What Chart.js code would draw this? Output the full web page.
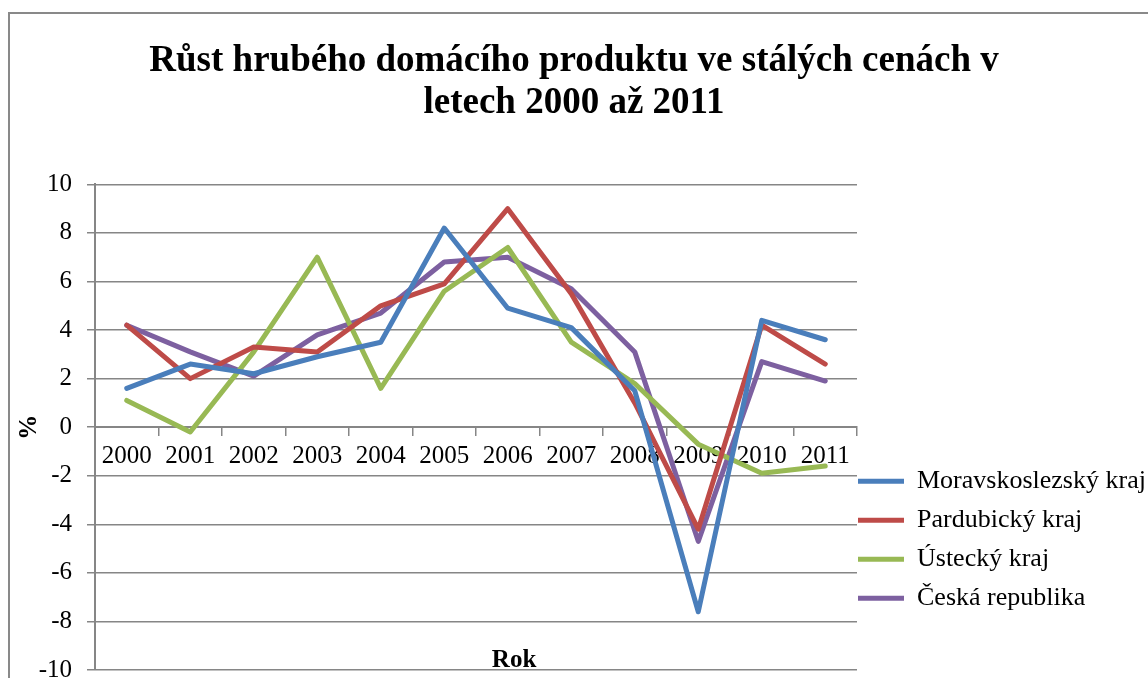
<!DOCTYPE html>
<html>
<head>
<meta charset="utf-8">
<script src="https://cdn.jsdelivr.net/npm/chart.js@4"></script>
<style>
    html, body { margin: 0; padding: 0; background: #fff; overflow: hidden; }
    #frame {
        position: absolute; left: 8px; top: 12px; width: 1200px; height: 720px;
        border-top: 2px solid #898989; border-left: 2px solid #898989;
    }
    #chart { position: absolute; left: 0; top: 0; }
</style>
</head>
<body>
<div id="frame"></div>
<canvas id="chart" width="1148" height="700"></canvas>
<script>
const years = ['2000', '2001', '2002', '2003', '2004', '2005', '2006', '2007', '2008', '2009', '2010', '2011'];

const moravskoslezsky = [1.6, 2.6, 2.2, 2.9, 3.5, 8.2, 4.9, 4.1, 1.5, -7.6, 4.4, 3.6];
const pardubicky      = [4.2, 2.0, 3.3, 3.1, 5.0, 5.9, 9.0, 5.5, 1.0, -4.2, 4.2, 2.6];
const ustecky         = [1.1, -0.2, 3.1, 7.0, 1.6, 5.6, 7.4, 3.5, 1.8, -0.7, -1.9, -1.6];
const ceskaRepublika  = [4.2, 3.1, 2.1, 3.8, 4.7, 6.8, 7.0, 5.7, 3.1, -4.7, 2.7, 1.9];

const seriesNames = ['Moravskoslezský kraj', 'Pardubický kraj', 'Ústecký kraj', 'Česká republika'];
const seriesColors = ['#4A7EBB', '#BE4B48', '#98B954', '#7D60A0'];

const yMin = -10;
const yMax = 10;
const yStep = 2;

const serif = 'Liberation Serif';
const gridColor = '#868686';

function makeDataset(i, values) {
    return {
        label: seriesNames[i],
        data: values,
        borderColor: seriesColors[i],
        backgroundColor: seriesColors[i],
        borderWidth: 5,
        borderCapStyle: 'round',
        borderJoinStyle: 'round',
        pointRadius: 0,
        tension: 0
    };
}

// shifts the legend down beside the plot and writes the "Rok" axis title
const excelLook = {
    id: 'excelLook',
    afterLayout: function (chart) {
        const lg = chart.legend;
        lg.left -= 12;
        lg.top += 271;
        lg.bottom += 271;
    },
    afterDraw: function (chart) {
        const ctx = chart.ctx;
        const area = chart.chartArea;
        ctx.save();
        ctx.font = 'bold 25px "' + serif + '"';
        ctx.fillStyle = '#000';
        ctx.textAlign = 'center';
        ctx.textBaseline = 'alphabetic';
        ctx.fillText('Rok', area.left + area.width * 0.55, area.bottom - 3);
        ctx.restore();
    }
};

new Chart(document.getElementById('chart').getContext('2d'), {
    type: 'line',
    data: {
        labels: years,
        datasets: [
            makeDataset(0, moravskoslezsky),
            makeDataset(1, pardubicky),
            makeDataset(2, ustecky),
            makeDataset(3, ceskaRepublika)
        ]
    },
    options: {
        responsive: false,
        animation: false,
        devicePixelRatio: 1,
        layout: { padding: { top: 0, left: 0, right: 0, bottom: 15 } },
        plugins: {
            title: {
                display: true,
                text: ['Růst hrubého domácího produktu ve stálých cenách v', 'letech 2000 až 2011'],
                color: '#000',
                font: { family: serif, size: 37, weight: 'bold', lineHeight: 1.14 },
                padding: { top: 40, bottom: 60 }
            },
            legend: {
                position: 'right',
                align: 'start',
                fullSize: false,
                maxWidth: 291,
                labels: {
                    usePointStyle: true,
                    pointStyle: 'line',
                    pointStyleWidth: 46,
                    color: '#000',
                    padding: 13,
                    font: { family: serif, size: 26 }
                }
            },
            tooltip: { enabled: false }
        },
        scales: {
            x: {
                type: 'category',
                position: { y: 0 },
                offset: true,
                grid: {
                    offset: true,
                    drawOnChartArea: false,
                    drawTicks: true,
                    tickLength: 8,
                    color: gridColor,
                    lineWidth: 1.5
                },
                border: { display: true, color: gridColor, width: 2 },
                ticks: {
                    color: '#000',
                    font: { family: serif, size: 25 },
                    padding: 6,
                    autoSkip: false,
                    maxRotation: 0
                }
            },
            y: {
                min: yMin,
                max: yMax,
                afterFit: function (scale) { scale.width = 95; },
                ticks: {
                    stepSize: yStep,
                    color: '#000',
                    font: { family: serif, size: 25 },
                    padding: 15
                },
                grid: {
                    color: gridColor,
                    lineWidth: 1.5,
                    tickLength: 8
                },
                border: { display: true, color: gridColor, width: 2 },
                title: {
                    display: true,
                    text: '%',
                    color: '#000',
                    font: { family: serif, size: 25, weight: 'bold' },
                    padding: { top: 15, bottom: 0 }
                }
            }
        }
    },
    plugins: [excelLook]
});
</script>
</body>
</html>
